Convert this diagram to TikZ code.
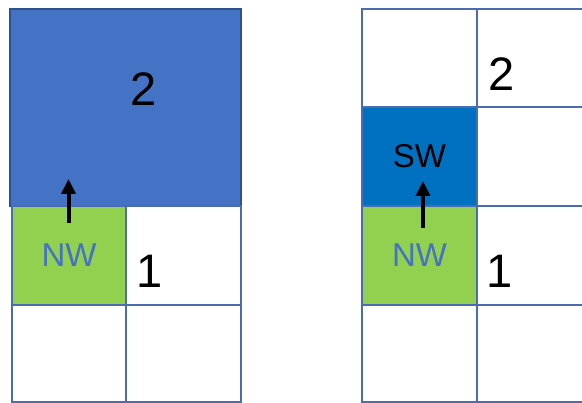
\documentclass[tikz,border=0pt]{standalone}
\usepackage{fontspec}
\setmainfont{Liberation Sans}
\usetikzlibrary{arrows.meta}
\definecolor{gridc}{HTML}{4A6DB0}
\definecolor{bigblue}{HTML}{4472C4}
\definecolor{bigedge}{HTML}{2F528F}
\definecolor{greenc}{HTML}{92D050}
\definecolor{swblue}{HTML}{0070C0}
\definecolor{nwtext}{HTML}{4472C4}
\tikzset{
  cell/.style={draw=gridc, line width=1.2pt, fill=white, inner sep=0pt, outer sep=0pt},
  nwcell/.style={cell, fill=greenc, text=nwtext, font=\fontsize{33}{33}\selectfont},
  swcell/.style={cell, fill=swblue, text=black, font=\fontsize{33}{33}\selectfont},
  bigcell/.style={draw=bigedge, line width=1.5pt, fill=bigblue, inner sep=0pt, outer sep=0pt},
  num/.style={font=\fontsize{47}{47}\selectfont, inner sep=0pt},
  upar/.style={-{Triangle[width=14pt,length=15pt]}, line width=4pt, black}
}
\begin{document}
\begin{tikzpicture}[x=1pt,y=-1pt]
\useasboundingbox (0,0) rectangle (582,403);
% ---- left diagram ----
\node[bigcell, minimum width=231pt, minimum height=197pt] (big) at (125.5,107.5) {};
\node[nwcell, minimum width=114pt, minimum height=99pt] (lnw) at (69,255.5) {NW};
\node[cell, minimum width=115pt, minimum height=99pt] (l1) at (183.5,255.5) {};
\node[cell, minimum width=114pt, minimum height=97pt] (l3) at (69,353.5) {};
\node[cell, minimum width=115pt, minimum height=97pt] (l4) at (183.5,353.5) {};
\node[num] (ltwo) at (144,89) {2};
\node[num] (lone) at (150,271) {1};
\coordinate (la) at (68.5,223);
\coordinate (lb) at (68.5,179);
\draw[upar] (la) -- (lb);
% ---- right diagram ----
\node[cell, minimum width=115pt, minimum height=98pt] (r00) at (419.5,58) {};
\node[cell, minimum width=115pt, minimum height=98pt] (r01) at (534.5,58) {};
\node[swcell, minimum width=115pt, minimum height=99pt] (rsw) at (419.5,156.5) {SW};
\node[cell, minimum width=115pt, minimum height=99pt] (r11) at (534.5,156.5) {};
\node[nwcell, minimum width=115pt, minimum height=99pt] (rnw) at (419.5,255.5) {NW};
\node[cell, minimum width=115pt, minimum height=99pt] (r21) at (534.5,255.5) {};
\node[cell, minimum width=115pt, minimum height=97pt] (r30) at (419.5,353.5) {};
\node[cell, minimum width=115pt, minimum height=97pt] (r31) at (534.5,353.5) {};
\node[num] (rtwo) at (502,74) {2};
\node[num] (rone) at (500,271) {1};
\coordinate (ra) at (423,228);
\coordinate (rb) at (423,181);
\draw[upar] (ra) -- (rb);
\end{tikzpicture}
\end{document}
